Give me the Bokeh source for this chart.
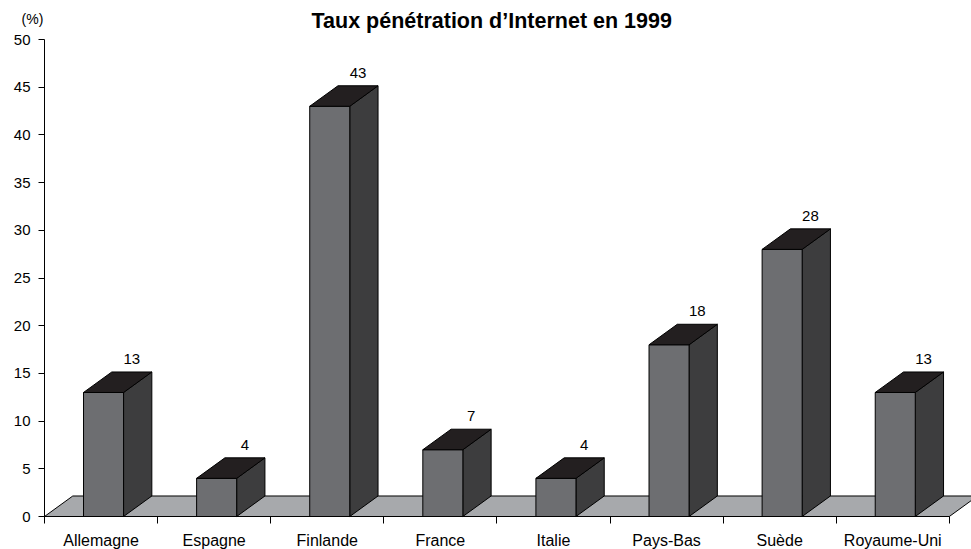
from bokeh.plotting import figure
from bokeh.models import Range1d, FixedTicker, LinearAxis, ColumnDataSource
from bokeh.embed import file_html
from bokeh.resources import INLINE
from bokeh.core.properties import value

categories = ["Allemagne", "Espagne", "Finlande", "France", "Italie", "Pays-Bas", "Suède", "Royaume-Uni"]
values = [13, 4, 43, 7, 4, 18, 28, 13]
value_labels = ["13", "4", "43", "7", "4", "18", "28", "13"]
y_ticks = [0, 5, 10, 15, 20, 25, 30, 35, 40, 45, 50]
title_text = "Taux pénétration d’Internet en 1999"
unit_text = "(%)"

FONT = "Liberation Sans"
n = len(categories)
Y_MAX = 50
DX = 0.25
DY = 2.15
BAR_OFF = 0.345
BAR_W = 0.354

# canvas = frame; axes are placed at fixed data locations inside it
W, H = 971, 549
X0_PX, Y0_PX = 44, 516          # pixel position of data origin
PX_X = 113.1                    # pixels per category
PX_Y = 9.54                     # pixels per percent
x_range = Range1d(-X0_PX / PX_X, (W - X0_PX) / PX_X)
y_range = Range1d(-(H - Y0_PX) / PX_Y, Y0_PX / PX_Y)

p = figure(width=W, height=H, output_backend="svg", toolbar_location=None,
           x_range=x_range, y_range=y_range, x_axis_location=None, y_axis_location=None,
           min_border_left=0, min_border_right=0, min_border_top=0, min_border_bottom=0)
p.outline_line_color = None
p.xgrid.visible = False
p.ygrid.visible = False
p.background_fill_color = "white"

p.patch([0, n, n + DX, DX], [0, 0, DY, DY], fill_color="#a7a9ac", line_color="black", line_width=1)

left = [i + BAR_OFF for i in range(n)]
right = [l + BAR_W for l in left]
front = ColumnDataSource(dict(left=left, right=right, top=values, bottom=[0] * n))

side_xs = [[r, r + DX, r + DX, r] for r in right]
side_ys = [[0, DY, v + DY, v] for v in values]
top_xs = [[l, r, r + DX, l + DX] for l, r in zip(left, right)]
top_ys = [[v, v, v + DY, v + DY] for v in values]

p.patches(side_xs, side_ys, fill_color="#3d3d3e", line_color="black", line_width=1)
p.quad(left="left", right="right", top="top", bottom="bottom", source=front,
       fill_color="#6d6e71", line_color="black", line_width=1)
p.patches(top_xs, top_ys, fill_color="#231f20", line_color="black", line_width=1)

lab = ColumnDataSource(dict(x=[l + BAR_W / 2 + DX for l in left], y=[v + DY for v in values], t=value_labels))
p.text(x="x", y="y", text="t", source=lab, text_align="center", text_baseline="bottom",
       y_offset=-8, text_font=value(FONT), text_font_size="15px", text_color="black")

xaxis = LinearAxis(fixed_location=0, bounds=(0, n))
xaxis.ticker = FixedTicker(ticks=[i + 0.5 for i in range(n)], minor_ticks=list(range(n + 1)))
xaxis.major_label_overrides = {i + 0.5: c for i, c in enumerate(categories)}
xaxis.major_tick_out = 0
xaxis.major_tick_in = 0
xaxis.minor_tick_out = 7
xaxis.minor_tick_in = 0
xaxis.minor_tick_line_color = "black"
xaxis.axis_line_color = "black"
xaxis.major_label_standoff = 8
xaxis.major_label_text_font = FONT
xaxis.major_label_text_font_size = "16px"
xaxis.major_label_text_color = "black"
p.add_layout(xaxis, "below")

yaxis = LinearAxis(fixed_location=0, bounds=(0, Y_MAX))
yaxis.ticker = FixedTicker(ticks=y_ticks)
yaxis.major_tick_out = 6
yaxis.major_tick_in = 0
yaxis.minor_tick_out = 0
yaxis.minor_tick_in = 0
yaxis.major_tick_line_color = "black"
yaxis.axis_line_color = "black"
yaxis.major_label_standoff = 8
yaxis.major_label_text_font = FONT
yaxis.major_label_text_font_size = "15px"
yaxis.major_label_text_color = "black"
p.add_layout(yaxis, "left")

# title and unit, positioned relative to the top of the value axis
p.text(x=[(311 - X0_PX) / PX_X], y=[Y_MAX], text=[title_text], text_align="left",
       text_baseline="middle", y_offset=-19, text_font=value(FONT), text_font_size="21.5px",
       text_font_style="bold", text_color="black")
p.text(x=[0], y=[Y_MAX], text=[unit_text], text_align="center", text_baseline="middle",
       x_offset=-12, y_offset=-21, text_font=value(FONT), text_font_size="14px", text_color="black")

open("out.html", "w").write(file_html(p, INLINE))
